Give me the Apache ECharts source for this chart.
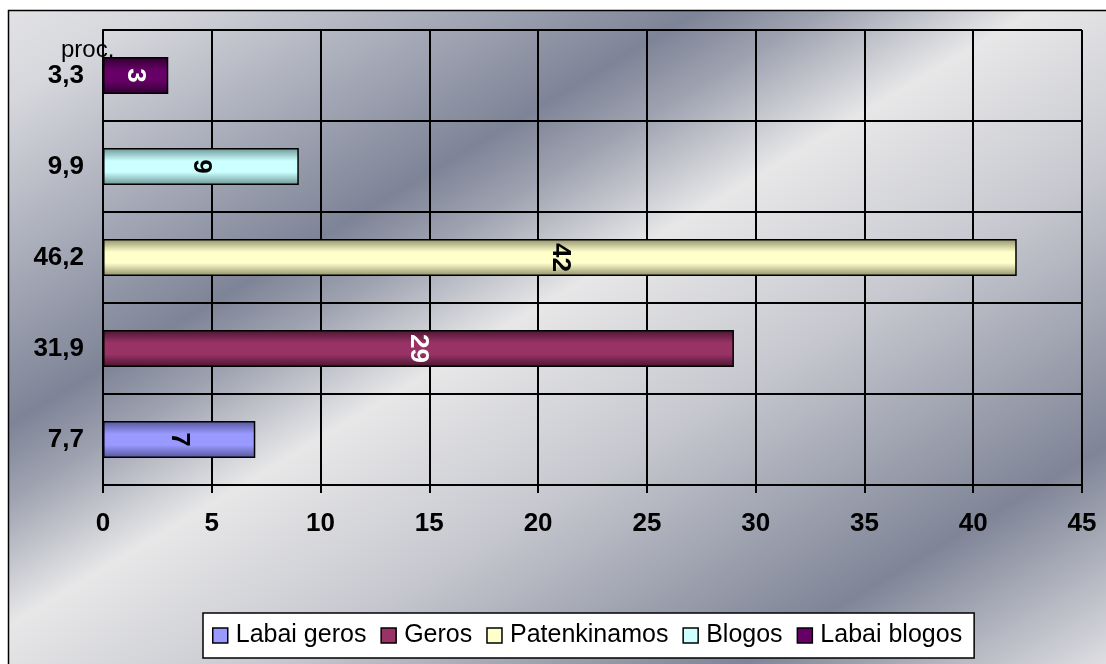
<!DOCTYPE html>
<html>
<head>
<meta charset="utf-8">
<script src="https://cdn.jsdelivr.net/npm/echarts@6/dist/echarts.min.js"></script>
<style>
  html, body { margin: 0; padding: 0; background: #ffffff; }
  #chart { width: 1106px; height: 664px; }
</style>
</head>
<body>
<div id="chart"></div>
<script>
// Assessment groups (legend order) and how many answers fell in each
const groups = ['Labai geros', 'Geros', 'Patenkinamos', 'Blogos', 'Labai blogos'];
const counts = [7, 29, 42, 9, 3];
// Share of all answers, in percent, shown as the category labels
const shares = [7.7, 31.9, 46.2, 9.9, 3.3];
// Value axis ticks
const xMin = 0, xMax = 45, xStep = 5;

// Bar colours: base tone and the darker edge tone of the cylinder shading
const baseColors = ['#9999ff', '#993366', '#ffffcc', '#ccffff', '#660066'];
const edgeColors = ['#55559a', '#4a1530', '#8f8f6a', '#6a9494', '#2e002e'];
const labelColors = ['#000000', '#ffffff', '#000000', '#000000', '#ffffff'];

const categories = shares.map(v => v.toFixed(1).replace('.', ','));
const FONT = '"Liberation Sans", Arial, Helvetica, sans-serif';

function barGradient(i) {
  return {
    type: 'linear', x: 0, y: 0, x2: 0, y2: 1,
    colorStops: [
      { offset: 0, color: edgeColors[i] },
      { offset: 0.35, color: baseColors[i] },
      { offset: 0.65, color: baseColors[i] },
      { offset: 1, color: edgeColors[i] }
    ]
  };
}

const series = groups.map((name, k) => ({
  name: name,
  type: 'bar',
  stack: 'one',
  barWidth: 37,
  data: counts.map((v, i) => (i === k ? v : '-')),
  itemStyle: { color: barGradient(k), borderColor: '#000', borderWidth: 1.5 },
  label: {
    show: true,
    position: 'inside',
    rotate: -90,
    formatter: '{c}',
    color: labelColors[k],
    fontFamily: FONT,
    fontWeight: 'bold',
    fontSize: 26
  }
}));

const chart = echarts.init(document.getElementById('chart'), null, { renderer: 'canvas' });
chart.setOption({
  animation: false,
  backgroundColor: '#ffffff',
  graphic: [{
    type: 'rect',
    z: -10,
    silent: true,
    shape: { x: 8.5, y: 10.5, width: 1200, height: 800 },
    style: {
      fill: {
        type: 'linear', global: true, x: 0, y: 0, x2: 585, y2: 976,
        colorStops: [
          { offset: 0, color: '#e4e4e6' },
          { offset: 0.08, color: '#d6d7dc' },
          { offset: 0.22, color: '#a3a7b5' },
          { offset: 0.324, color: '#7e8497' },
          { offset: 0.38, color: '#9ea2b0' },
          { offset: 0.475, color: '#e7e7e8' },
          { offset: 0.62, color: '#c8c9d0' },
          { offset: 0.836, color: '#7f8597' },
          { offset: 1, color: '#dedee2' }
        ]
      },
      stroke: '#000',
      lineWidth: 1.5
    }
  }],
  title: {
    text: 'proc.',
    left: 61,
    top: 38,
    padding: 0,
    textStyle: { fontFamily: FONT, fontWeight: 'normal', fontSize: 24, color: '#000' }
  },
  legend: {
    data: groups.map((g, i) => ({ name: g, itemStyle: { color: baseColors[i], borderColor: '#000', borderWidth: 1.5 } })),
    left: 203,
    top: 613,
    orient: 'horizontal',
    icon: 'rect',
    itemWidth: 15,
    itemHeight: 15,
    itemGap: 14,
    padding: [10, 12, 10, 9],
    backgroundColor: '#ffffff',
    borderColor: '#000',
    borderWidth: 1.5,
    textStyle: { fontFamily: FONT, fontSize: 25, color: '#000', padding: [0, 0, 0, 3] }
  },
  grid: { left: 103, right: 24, top: 30, bottom: 179, containLabel: false },
  xAxis: {
    type: 'value',
    min: xMin, max: xMax, interval: xStep,
    axisLine: { show: true, lineStyle: { color: '#000', width: 2 } },
    axisTick: { show: true, length: 8, lineStyle: { color: '#000', width: 2 } },
    axisLabel: { margin: 26, fontFamily: FONT, fontWeight: 'bold', fontSize: 26, color: '#000' },
    splitLine: { show: true, lineStyle: { color: '#000', width: 2 } }
  },
  yAxis: {
    type: 'category',
    data: categories,
    axisLine: { show: true, lineStyle: { color: '#000', width: 2 } },
    axisTick: { show: false },
    axisLabel: { margin: 19, fontFamily: FONT, fontWeight: 'bold', fontSize: 26, color: '#000' },
    splitLine: { show: true, lineStyle: { color: '#000', width: 2 } }
  },
  series: series
});
</script>
</body>
</html>
